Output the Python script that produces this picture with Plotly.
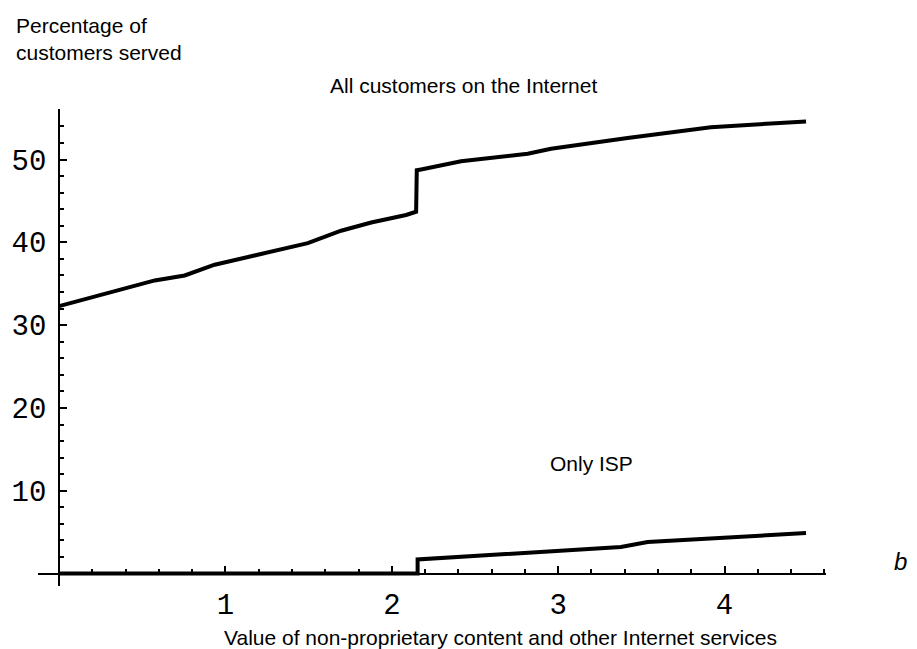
import plotly.graph_objects as go

# Data
all_x = [0.0, 0.575, 0.755, 0.935, 1.495, 1.695, 1.876, 2.086, 2.146, 2.15, 2.176, 2.276, 2.416, 2.817, 2.957, 3.417, 3.778, 3.918, 4.49]
all_y = [32.3, 35.4, 36.0, 37.3, 39.9, 41.4, 42.4, 43.3, 43.7, 48.7, 48.8, 49.2, 49.8, 50.7, 51.3, 52.6, 53.5, 53.9, 54.6]

isp_x = [0.0, 2.155, 2.155, 3.377, 3.538, 4.49]
isp_y = [0.0, 0.0, 1.7, 3.2, 3.8, 4.9]

x_ticks = [1, 2, 3, 4]
y_ticks = [10, 20, 30, 40, 50]

W, H = 917, 649
ML, MR, MT, MB = 30, 99, 101, 71
PW, PH = W - ML - MR, H - MT - MB
XR = [-0.127, 4.61]
YR = [-1.5, 56.1]


def px(x):
    return (x - ML) / PW


def py(y):
    return (H - MB - y) / PH


fig = go.Figure()
for xs, ys in [(all_x, all_y), (isp_x, isp_y)]:
    fig.add_trace(go.Scatter(x=xs, y=ys, mode="lines",
                             line=dict(color="black", width=4),
                             cliponaxis=False, showlegend=False, hoverinfo="skip"))

tickfont = dict(family="Liberation Mono", size=29, color="black")
txtfont = dict(family="Liberation Sans", size=21, color="black")

fig.update_layout(
    width=W, height=H,
    margin=dict(l=ML, r=MR, t=MT, b=MB, autoexpand=False),
    paper_bgcolor="white", plot_bgcolor="white",
    xaxis=dict(range=XR, showgrid=False, zeroline=False, showline=True, automargin=False,
               linecolor="black", linewidth=2, anchor="free",
               position=(0 - YR[0]) / (YR[1] - YR[0]),
               tickmode="array", tickvals=x_ticks, ticktext=[str(v) for v in x_ticks],
               ticks="inside", ticklen=7, tickwidth=2, tickcolor="black",
               tickfont=tickfont, ticklabelstandoff=5,
               minor=dict(dtick=0.2, tick0=0, ticks="inside", ticklen=4, tickwidth=1.5, tickcolor="black")),
    yaxis=dict(range=YR, showgrid=False, zeroline=False, showline=True, automargin=False,
               linecolor="black", linewidth=2, anchor="free",
               position=(0 - XR[0]) / (XR[1] - XR[0]),
               tickmode="array", tickvals=y_ticks, ticktext=[str(v) for v in y_ticks],
               ticks="inside", ticklen=7, tickwidth=2, tickcolor="black",
               tickfont=tickfont, ticklabelstandoff=6,
               minor=dict(dtick=2, tick0=0, ticks="inside", ticklen=4, tickwidth=1.5, tickcolor="black")),
)

fig.add_annotation(text="Percentage of<br>customers served", xref="paper", yref="paper",
                   x=px(6), y=py(4), xanchor="left", yanchor="top",
                   align="left", showarrow=False, font=txtfont)
fig.add_annotation(text="All customers on the Internet", xref="paper", yref="paper",
                   x=px(455), y=py(77), xanchor="center", yanchor="middle",
                   showarrow=False, font=txtfont)
fig.add_annotation(text="Only ISP", xref="paper", yref="paper",
                   x=px(583), y=py(455), xanchor="center", yanchor="middle",
                   showarrow=False, font=txtfont)
fig.add_annotation(text="<i>b</i>", xref="paper", yref="paper",
                   x=px(893), y=py(553), xanchor="center", yanchor="middle",
                   showarrow=False, font=dict(family="Liberation Sans", size=24, color="black"))
fig.add_annotation(text="Value of non-proprietary content and other Internet services",
                   xref="paper", yref="paper",
                   x=px(771), y=py(629), xanchor="right", yanchor="middle",
                   showarrow=False, font=txtfont)

fig.write_html("out.html")
